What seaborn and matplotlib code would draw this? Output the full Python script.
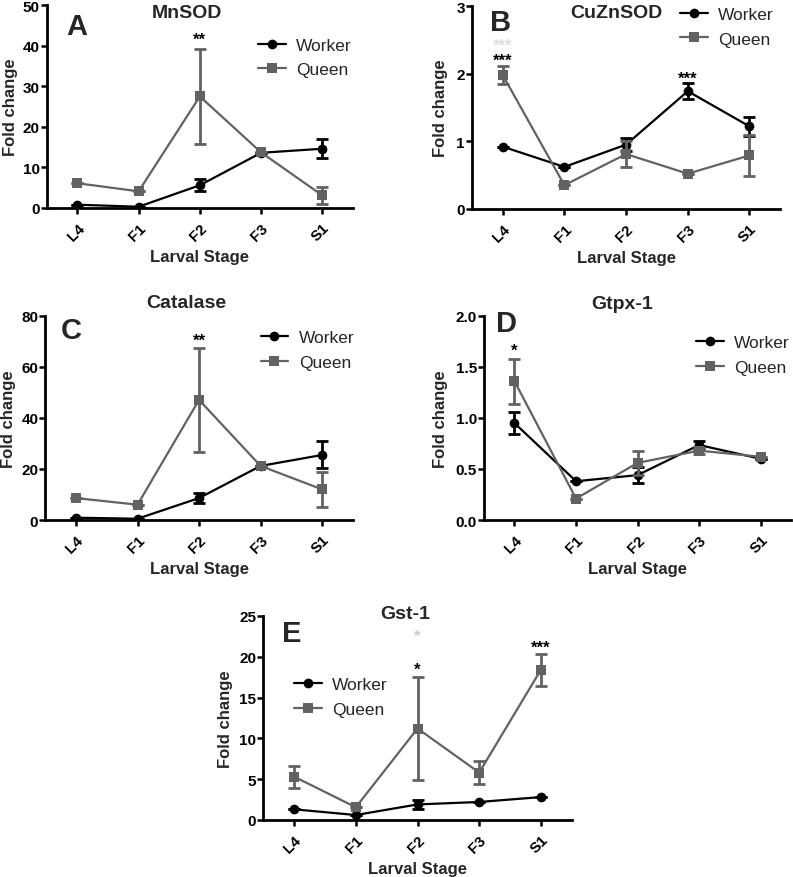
import matplotlib
matplotlib.use("Agg")
import matplotlib.pyplot as plt
import seaborn as sns
import numpy as np

sns.set_style("ticks")
plt.rcParams['font.family'] = ['Liberation Sans', 'DejaVu Sans']

# stages on the x axis
stages = ['L4', 'F1', 'F2', 'F3', 'S1']

# MnSOD
mnsod_worker = [0.8, 0.3, 5.6, 13.6, 14.6]
mnsod_worker_err = [0, 0, 1.5, 0, 2.3]
mnsod_queen = [6.1, 4.1, 27.5, 13.7, 3.1]
mnsod_queen_err = [0, 0, 11.8, 0, 2.1]

# CuZnSOD
cuznsod_worker = [0.92, 0.62, 0.95, 1.74, 1.22]
cuznsod_worker_err = [0, 0, 0.1, 0.12, 0.14]
cuznsod_queen = [1.98, 0.35, 0.81, 0.52, 0.79]
cuznsod_queen_err = [0.13, 0, 0.19, 0, 0.3]

# Catalase
catalase_worker = [0.9, 0.5, 8.6, 21.2, 25.5]
catalase_worker_err = [0, 0, 2.0, 0, 5.3]
catalase_queen = [8.6, 6.0, 47.1, 21.2, 12.0]
catalase_queen_err = [0, 0, 20.3, 0, 7.0]

# Gtpx-1
gtpx_worker = [0.95, 0.38, 0.44, 0.735, 0.60]
gtpx_worker_err = [0.11, 0, 0.08, 0.04, 0]
gtpx_queen = [1.36, 0.21, 0.56, 0.68, 0.62]
gtpx_queen_err = [0.22, 0, 0.12, 0.03, 0]

# Gst-1
gst_worker = [1.3, 0.6, 1.9, 2.2, 2.8]
gst_worker_err = [0, 0, 0.6, 0, 0]
gst_queen = [5.3, 1.55, 11.2, 5.8, 18.4]
gst_queen_err = [1.35, 0, 6.3, 1.4, 1.95]

worker_color = 'black'
queen_color = '#626262'

fig = plt.figure(figsize=(7.93, 8.78), dpi=100)

def panel(rect, title, letter, worker, worker_err, queen, queen_err, ymax, ystep,
          title_pos, letter_pos, legend_pos, stars, ylab_off, yfmt='%d'):
    ax = fig.add_axes(rect)
    x = np.arange(len(stages))
    sns.lineplot(x=x, y=worker, ax=ax, color=worker_color, marker='o', markersize=7,
                 markeredgewidth=0, linewidth=1.6, label='Worker', zorder=3)
    ax.errorbar(x, worker, yerr=worker_err, fmt='none', ecolor=worker_color,
                elinewidth=2, capsize=4, capthick=2, zorder=3)
    sns.lineplot(x=x, y=queen, ax=ax, color=queen_color, marker='s', markersize=7,
                 markeredgewidth=0, linewidth=1.6, label='Queen', zorder=4)
    ax.errorbar(x, queen, yerr=queen_err, fmt='none', ecolor=queen_color,
                elinewidth=2, capsize=4, capthick=2, zorder=4)
    ax.set_xlim(-0.5, 4.5)
    ax.set_ylim(0, ymax)
    ax.set_yticks(np.arange(0, ymax + ystep / 2, ystep))
    ax.yaxis.set_major_formatter(matplotlib.ticker.FormatStrFormatter(yfmt))
    ax.set_xticks(x)
    ax.set_xticklabels(stages, rotation=45, ha='right', rotation_mode='anchor')
    for lab in ax.get_xticklabels() + ax.get_yticklabels():
        lab.set_fontweight('bold')
        lab.set_fontsize(11)
    ax.tick_params(direction='out', length=4, width=1.8, colors='black')
    ax.tick_params(axis='y', pad=1)
    ax.tick_params(axis='x', pad=5)
    for s in ['left', 'bottom']:
        ax.spines[s].set_linewidth(2)
        ax.spines[s].set_color('black')
    sns.despine(ax=ax)
    ax.set_xlabel('Larval Stage', fontsize=12, fontweight='bold', labelpad=4)
    ax.set_ylabel('Fold change', fontsize=12, fontweight='bold')
    ax.yaxis.set_label_coords(-ylab_off / (rect[2] * 793), 0.5)
    ax.text(title_pos[0], title_pos[1], title, transform=ax.transAxes, fontsize=14,
            fontweight='bold', ha='center', va='center')
    ax.text(letter_pos[0], letter_pos[1], letter, transform=ax.transAxes, fontsize=21,
            fontweight='bold', ha='left', va='top')
    ax.legend(loc='upper left', bbox_to_anchor=legend_pos, frameon=False, fontsize=12.5,
              handlelength=1.6, handletextpad=0.6, labelspacing=0.53, borderpad=0,
              borderaxespad=0)
    for xi, yi, txt, col in stars:
        ax.text(xi, yi, txt, fontsize=12, fontweight='bold', ha='center', va='center',
                color=col)
    return ax

panel([0.059, 0.762, 0.386, 0.231], 'MnSOD', 'A',
      mnsod_worker, mnsod_worker_err, mnsod_queen, mnsod_queen_err, 50, 10,
      (0.457, 0.965), (0.065, 0.966), (0.69, 0.84),
      [(2, 41.5, '**', 'black')], 29)

panel([0.595, 0.761, 0.389, 0.231], 'CuZnSOD', 'B',
      cuznsod_worker, cuznsod_worker_err, cuznsod_queen, cuznsod_queen_err, 3, 1,
      (0.47, 0.97), (0.058, 0.99), (0.675, 0.995),
      [(0, 2.42, '***', '#dddddd'), (0, 2.2, '***', 'black'), (3, 1.93, '***', 'black')],
      24)

panel([0.057, 0.4066, 0.388, 0.2324], 'Catalase', 'C',
      catalase_worker, catalase_worker_err, catalase_queen, catalase_queen_err, 80, 20,
      (0.458, 1.068), (0.05, 1.0), (0.70, 0.93),
      [(2, 70.5, '**', 'black')], 29)

panel([0.610, 0.4066, 0.388, 0.2324], 'Gtpx-1', 'D',
      gtpx_worker, gtpx_worker_err, gtpx_queen, gtpx_queen_err, 2.0, 0.5,
      (0.45, 1.06), (0.04, 1.034), (0.69, 0.906),
      [(0, 1.66, '*', 'black')], 36, yfmt='%.1f')

panel([0.332, 0.065, 0.389, 0.2324], 'Gst-1', 'E',
      gst_worker, gst_worker_err, gst_queen, gst_queen_err, 25, 5,
      (0.46, 1.01), (0.06, 0.985), (0.10, 0.70),
      [(2, 22.5, '*', '#cccccc'), (2, 18.4, '*', 'black'), (4, 21.1, '***', 'black')], 30)

fig.savefig('out.png', dpi=100)
